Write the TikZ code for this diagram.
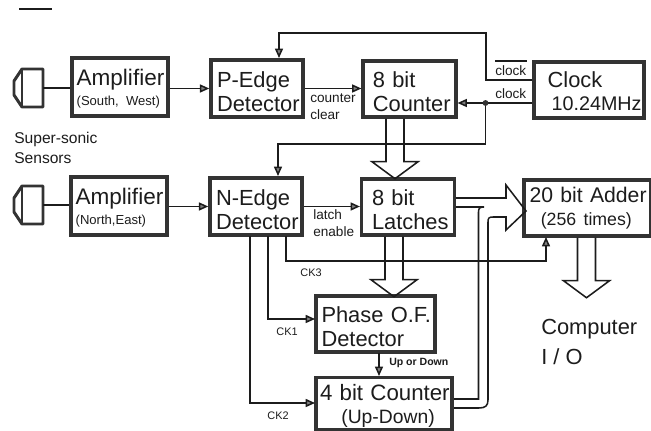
\documentclass[tikz,border=0pt]{standalone}
\usepackage{fontspec}
\setmainfont{Liberation Sans}
\usetikzlibrary{arrows.meta,calc}
\definecolor{ink}{HTML}{1C1C1C}
\definecolor{rim}{HTML}{333333}
\newcommand{\bigfs}{\fontsize{16.4}{18}\selectfont}
\newcommand{\subfs}{\fontsize{9.8}{12}\selectfont}
\newcommand{\lblfs}{\fontsize{10.2}{12.6}\selectfont}
\newcommand{\ckfs}{\fontsize{8.2}{10}\selectfont}
\newcommand{\topstrut}[1]{\rule{0pt}{#1}}
\newcommand{\bigdown}[3]{%
 \draw[wire] ([shift={(#2-9,0)}]#1.south) -- ++(0,#3) -- ++(-14,0) -- ([shift={(#2,#3+17)}]#1.south) -- ([shift={(#2+23,#3)}]#1.south) -- ++(-14,0) -- ([shift={(#2+9,0)}]#1.south);}
\newcommand{\sensor}[2]{%
 \draw[rim,line width=2.2pt,line join=round] (#1+29,#2-19) -- (#1+8,#2-19) -- (#1,#2-7) -- (#1,#2+7) -- (#1+8,#2+19) -- (#1+29,#2+19) -- cycle;
 \draw[rim,line width=1.5pt] (#1+8,#2-19) -- (#1+8,#2+19);}
\tikzset{
 x=0.75pt,y=-0.75pt,
 blk/.style={draw=rim,line width=2.6pt,rectangle,outer sep=1.3pt,inner sep=0pt,align=left,text=ink,font=\bigfs},
 wire/.style={draw=ink,line width=1.15pt,line join=miter},
 tip/.style={wire,-{Triangle[length=7pt,width=6pt,fill=gray]}},
 lbl/.style={text=ink,font=\lblfs,inner sep=0pt,align=left,anchor=west},
 ck/.style={text=ink,font=\ckfs,inner sep=0pt},
}
\begin{document}
\begin{tikzpicture}
\useasboundingbox (0,0) rectangle (651,431);
\draw[wire] (19,9) -- (52,9);
\node[blk,minimum width=72pt,minimum height=43.5pt,text width=67pt] (amp1) at (120,87) {\hspace*{1pt}{\fontsize{16.9}{18}\selectfont\topstrut{15pt}Amplifier}\\[-3pt]\hspace*{1pt}{\subfs (South, West)}};
\node[blk,minimum width=69pt,minimum height=43pt,text width=64pt] (ped) at (257,88.5) {\hspace*{2pt}\topstrut{16pt}P-Edge\\[0pt]\hspace*{2pt}Detector};
\node[blk,minimum width=69.5pt,minimum height=42pt,text width=64pt] (cnt) at (409.5,89) {\hspace*{4.5pt}\topstrut{16pt}8 bit\\[0pt]\hspace*{4.5pt}Counter};
\node[blk,minimum width=82.5pt,minimum height=42pt,text width=76pt] (clk) at (589,90) {\hspace*{7pt}\topstrut{14pt}Clock\\[-1pt]\hspace*{10pt}{\fontsize{14.8}{17}\selectfont 10.24MHz}};
\node[blk,minimum width=72pt,minimum height=43.5pt,text width=67pt] (amp2) at (119,206) {\hspace*{1pt}{\fontsize{16.9}{18}\selectfont\topstrut{15pt}Amplifier}\\[-3pt]\hspace*{1pt}{\subfs (North,East)}};
\node[blk,minimum width=69pt,minimum height=43pt,text width=64pt] (ned) at (256,206.5) {\hspace*{2pt}\topstrut{16pt}N-Edge\\[0pt]\hspace*{2pt}Detector};
\node[blk,minimum width=69.5pt,minimum height=42pt,text width=64pt] (lat) at (408,207) {\hspace*{5pt}\topstrut{16pt}8 bit\\[0pt]\hspace*{5pt}Latches};
\node[blk,minimum width=95.5pt,minimum height=42pt,text width=92pt] (add) at (587.5,208) {\hspace*{2.5pt}{\fontsize{15.9}{18}\selectfont 20 bit Adder}\\[-1pt]\hspace*{11pt}{\fontsize{13.3}{15}\selectfont (256 times)}};
\node[blk,minimum width=89pt,minimum height=42pt,text width=88pt] (pha) at (375.5,324) {\hspace*{3.5pt}\topstrut{16pt}Phase O.F.\\[0pt]\hspace*{3.5pt}Detector};
\node[blk,minimum width=102pt,minimum height=39pt,text width=100pt] (bit4) at (384,403.5) {\hspace*{2pt}{\fontsize{16.7}{18}\selectfont\topstrut{16pt}4 bit Counter}\\[-1pt]\hspace*{18pt}{\fontsize{14.5}{16}\selectfont (Up-Down)}};
\sensor{14}{88}
\sensor{14}{205}
\coordinate (sen1) at (43,88);
\coordinate (sen2) at (43,205);
\draw[wire] (sen1) -- (amp1.west |- sen1);
\draw[wire] (sen2) -- (amp2.west |- sen2);
\draw[tip] (amp1.east |- ped.west) -- (ped.west);
\draw[tip] (amp2.east |- ned.west) -- (ned.west);
\draw[tip] (ped.east) -- (ped.east -| cnt.west);
\draw[tip] (ned.east) -- (ned.east -| lat.west);
\coordinate (clkt) at (534,80);
\coordinate (clkb) at (534,103);
\coordinate (dot) at (485.5,103);
\coordinate (pedin) at (279,58);
\coordinate (nedin) at (278,176);
\draw[tip] (clkt -| clk.west) -- (486,80) -- (486,33) -- (279,33) -- (pedin);
\draw[tip] (clkb -| clk.west) -- (clkb -| cnt.east);
\draw[tip] (dot) -- (485.5,144) -- (278,144) -- (nedin);
\fill[rim] (dot) circle (2.2pt);
\draw[tip] (286,236) -- (286,261) -- (546,261) -- (546,237);
\draw[tip] (268,236) -- (268,319) -- (315,319);
\draw[tip] (250,236) -- (250,403) -- (315,403);
\draw[tip] (379,353) -- (379,376);
\bigdown{cnt}{-14.5}{43}
\bigdown{lat}{-14}{43}
\bigdown{add}{-1}{43}
\coordinate (latup) at (456,198);
\coordinate (latlo) at (456,207);
\coordinate (cntup) at (454,399);
\coordinate (cntlo) at (454,408);
\draw[wire] (latup) -- (506,198) -- (506,185) -- (526,211) -- (506,230) -- (506,217) -- (493,217) .. controls (489,217) and (488,218) .. (488,222) -- (488,400) .. controls (488,406) and (485,408) .. (479,408) -- (cntlo);
\draw[wire] (latlo) -- (484,207) .. controls (480,207) and (478.5,208) .. (478.5,212) -- (478.5,399) -- (cntup);
\node[lbl] (t1) at (310,98) {counter};
\node[lbl] (t2) at (310,115) {clear};
\node[lbl] (t3) at (313,215) {latch};
\node[lbl] (t4) at (313,232) {enable};
\node[lbl,font=\fontsize{11.7}{14}\selectfont] (t5) at (14,139) {Super-sonic};
\node[lbl,font=\fontsize{11.7}{14}\selectfont] (t6) at (14,158) {Sensors};
\node[lbl] (t7) at (495,71) {clock};
\draw[wire] (t7.north west) ++(0,-5) -- ++(32,0);
\node[lbl] (t8) at (495,94) {clock};
\node[ck] (t9) at (311,273) {CK3};
\node[ck] (t10) at (287,332) {CK1};
\node[ck] (t11) at (278,416) {CK2};
\node[ck,anchor=west,font=\fontsize{7.9}{10}\selectfont\bfseries] (t12) at (389,363) {Up or Down};
\node[lbl,font=\bigfs,align=left] (t13) at (541,329) {Computer};
\node[lbl,font=\bigfs,align=left] (t14) at (541,357) {I / O};
\end{tikzpicture}
\end{document}
